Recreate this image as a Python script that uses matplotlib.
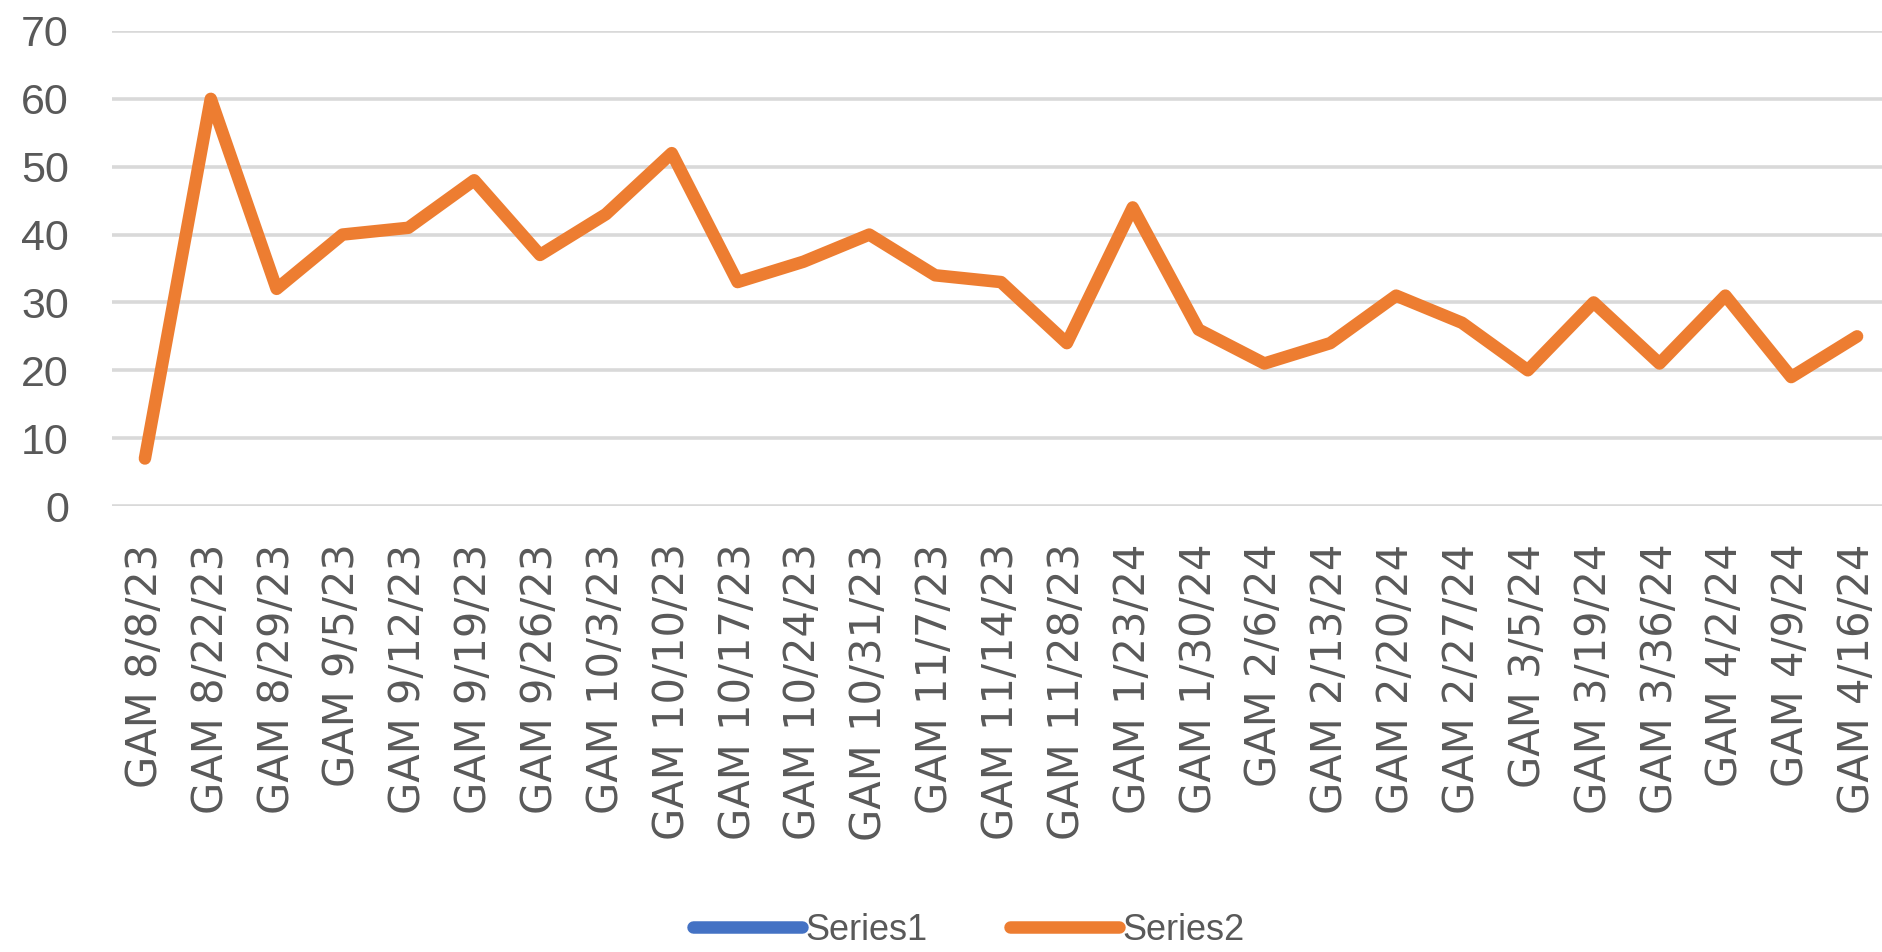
import matplotlib
matplotlib.use('Agg')
import matplotlib.pyplot as plt
import numpy as np

labels = ['GAM 8/8/23', 'GAM 8/22/23', 'GAM 8/29/23', 'GAM 9/5/23', 'GAM 9/12/23',
          'GAM 9/19/23', 'GAM 9/26/23', 'GAM 10/3/23', 'GAM 10/10/23', 'GAM 10/17/23',
          'GAM 10/24/23', 'GAM 10/31/23', 'GAM 11/7/23', 'GAM 11/14/23', 'GAM 11/28/23',
          'GAM 1/23/24', 'GAM 1/30/24', 'GAM 2/6/24', 'GAM 2/13/24', 'GAM 2/20/24',
          'GAM 2/27/24', 'GAM 3/5/24', 'GAM 3/19/24', 'GAM 3/36/24', 'GAM 4/2/24',
          'GAM 4/9/24', 'GAM 4/16/24']
series1 = []  # no visible values in the chart
series2 = [7, 60, 32, 40, 41, 48, 37, 43, 52, 33, 36, 40, 34, 33, 24,
           44, 26, 21, 24, 31, 27, 20, 30, 21, 31, 19, 25]

grey = '#595959'
fig = plt.figure(figsize=(18.83, 9.52), dpi=100)
ax = fig.add_axes([112/1883, 1-506/952, (1890-112)/1883, (506-31)/952])

x = np.arange(len(labels))
ax.plot(x[:len(series1)], series1, color='#4472C4', lw=9, solid_capstyle='round', label='Series1')
ax.plot(x, series2, color='#ED7D31', lw=9, solid_capstyle='round', solid_joinstyle='round', label='Series2')

ax.set_xlim(-0.5, len(labels) - 0.5)
ax.set_ylim(0, 70)
ax.set_yticks(range(0, 71, 10))
ax.yaxis.grid(True, color='#D9D9D9', lw=2.6)
ax.set_axisbelow(True)
for s in ax.spines.values():
    s.set_visible(False)

ax.set_xticks(x)
ax.set_xticklabels(labels, rotation=90, fontsize=30, color=grey, family='DejaVu Sans')
ax.tick_params(axis='x', length=0, pad=27)
ax.tick_params(axis='y', length=0, pad=31, labelsize=31, labelcolor=grey)
for t in ax.get_yticklabels():
    t.set_family('Liberation Sans')

fig.legend(loc='center', bbox_to_anchor=(969/1883, 1-930/952), ncol=2, frameon=False,
           prop={'family': 'Liberation Sans', 'size': 26}, labelcolor=grey, handlelength=3.0,
           handletextpad=0.1, columnspacing=2.3)

fig.savefig('out.png', dpi=100)
